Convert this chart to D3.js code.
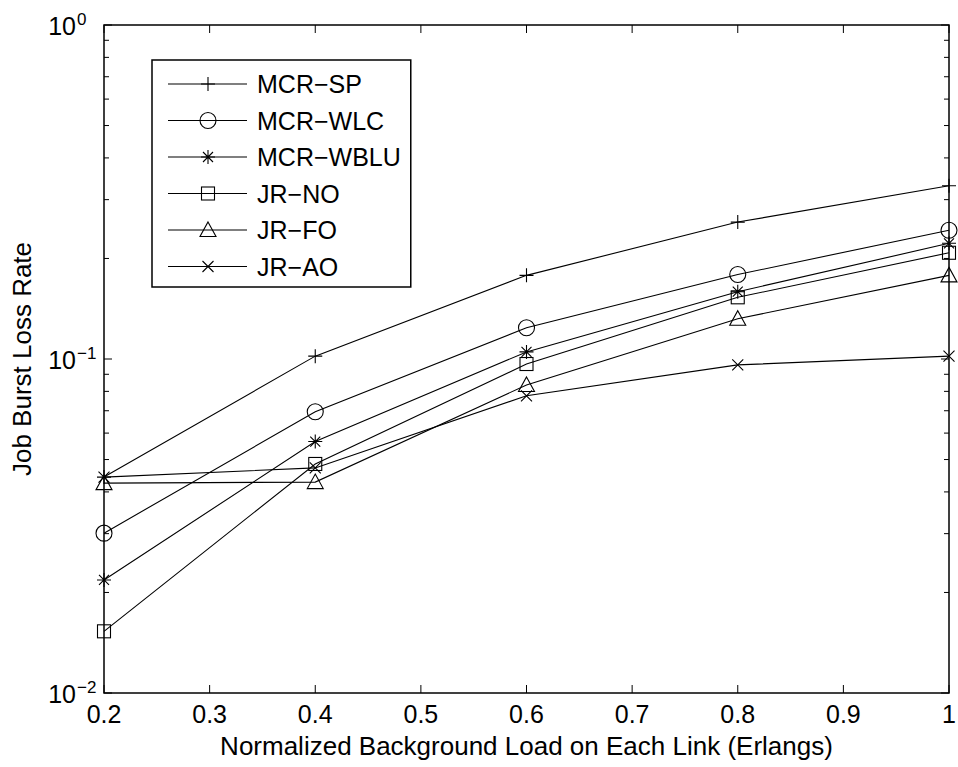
<!DOCTYPE html>
<html>
<head>
<meta charset="utf-8">
<script src="https://cdn.jsdelivr.net/npm/d3@7"></script>
<style>
  body { margin: 0; background: #fff; }
  text { font-family: "Liberation Sans", Arial, sans-serif; fill: #000; }
</style>
</head>
<body>
<div class="canva"></div>
<script>
// data
const loads = [0.2, 0.4, 0.6, 0.8, 1.0];
const mcrSP   = [0.0443, 0.102, 0.178, 0.257, 0.330];
const mcrWLC  = [0.0301, 0.0695, 0.124, 0.179, 0.243];
const mcrWBLU = [0.0218, 0.0566, 0.105, 0.159, 0.222];
const jrNO    = [0.0153, 0.0485, 0.0966, 0.153, 0.208];
const jrFO    = [0.0425, 0.0428, 0.0836, 0.132, 0.178];
const jrAO    = [0.0443, 0.0472, 0.0776, 0.096, 0.102];
const seriesNames = ['MCR\u2212SP', 'MCR\u2212WLC', 'MCR\u2212WBLU', 'JR\u2212NO', 'JR\u2212FO', 'JR\u2212AO'];
const markerTypes = ['plus', 'circle', 'star', 'square', 'triangle', 'cross'];
const xTicks = [0.2, 0.3, 0.4, 0.5, 0.6, 0.7, 0.8, 0.9, 1];
const yDecades = [-2, -1, 0];

const series = [mcrSP, mcrWLC, mcrWBLU, jrNO, jrFO, jrAO].map((vals, i) => ({
  name: seriesNames[i],
  marker: markerTypes[i],
  points: vals.map((v, j) => ({x: loads[j], y: v}))
}));

const width = 958, height = 767;
const margin = {top: 25, right: 9, bottom: 74, left: 104};
const w = width - margin.left - margin.right;
const h = height - margin.top - margin.bottom;
const fs = 25;

const svg = d3.select('.canva').append('svg')
  .attr('width', width)
  .attr('height', height);

const graph = svg.append('g')
  .attr('transform', `translate(${margin.left}, ${margin.top})`);

const x = d3.scaleLinear().domain([0.2, 1]).range([0, w]);
const y = d3.scaleLog().domain([0.01, 1]).range([h, 0]);

// ticks (inside, on all four sides)
const tickLen = 8, minorLen = 5;
const ticks = graph.append('g').attr('stroke', '#000').attr('stroke-width', 1);
xTicks.forEach(t => {
  ticks.append('line').attr('x1', x(t)).attr('x2', x(t)).attr('y1', h).attr('y2', h - tickLen);
  ticks.append('line').attr('x1', x(t)).attr('x2', x(t)).attr('y1', 0).attr('y2', tickLen);
});
y.ticks().forEach(t => {
  const major = Math.abs(Math.log10(t) - Math.round(Math.log10(t))) < 1e-9;
  const len = major ? tickLen : minorLen;
  ticks.append('line').attr('x1', 0).attr('x2', len).attr('y1', y(t)).attr('y2', y(t));
  ticks.append('line').attr('x1', w).attr('x2', w - len).attr('y1', y(t)).attr('y2', y(t));
});

// tick labels
graph.selectAll('.xlab').data(xTicks).enter().append('text')
  .attr('x', d => x(d))
  .attr('y', h + 30)
  .attr('text-anchor', 'middle')
  .style('font-size', fs + 'px')
  .text(d => d3.format('~g')(d));

yDecades.forEach(p => {
  const yy = y(Math.pow(10, p));
  graph.append('text')
    .attr('x', -28)
    .attr('y', yy + 10)
    .attr('text-anchor', 'end')
    .style('font-size', fs + 'px')
    .text('10');
  graph.append('text')
    .attr('x', -27)
    .attr('y', yy)
    .style('font-size', '17px')
    .text(p === 0 ? '0' : '\u2212' + Math.abs(p));
});

// axis titles
svg.append('text')
  .attr('x', margin.left + w / 2)
  .attr('y', 755)
  .attr('text-anchor', 'middle')
  .style('font-size', '26px')
  .text('Normalized Background Load on Each Link (Erlangs)');

svg.append('text')
  .attr('transform', `translate(31, ${margin.top + h / 2}) rotate(-90)`)
  .attr('text-anchor', 'middle')
  .style('font-size', '26px')
  .text('Job Burst Loss Rate');

// markers
function drawMarker(g, type) {
  if (type === 'plus') {
    g.append('path').attr('d', 'M-7,0H7M0,-7V7');
  } else if (type === 'circle') {
    g.append('circle').attr('r', 8);
  } else if (type === 'star') {
    g.append('path').attr('d', 'M-7,0H7M0,-7V7M-5,-5L5,5M-5,5L5,-5');
  } else if (type === 'square') {
    g.append('rect').attr('x', -6.5).attr('y', -6.5).attr('width', 13).attr('height', 13);
  } else if (type === 'triangle') {
    g.append('path').attr('d', 'M0,-8L8,6.5L-8,6.5Z');
  } else if (type === 'cross') {
    g.append('path').attr('d', 'M-5.5,-5.5L5.5,5.5M-5.5,5.5L5.5,-5.5');
  }
}

const line = d3.line().x(d => x(d.x)).y(d => y(d.y));

series.forEach(s => {
  graph.append('path')
    .datum(s.points)
    .attr('d', line)
    .attr('fill', 'none')
    .attr('stroke', '#000')
    .attr('stroke-width', 1.1);
  graph.selectAll(null).data(s.points).enter().append('g')
    .attr('transform', d => `translate(${x(d.x)}, ${y(d.y)})`)
    .attr('fill', 'none').attr('stroke', '#000').attr('stroke-width', 1.1)
    .each(function() { drawMarker(d3.select(this), s.marker); });
});

// frame
graph.append('rect')
  .attr('width', w).attr('height', h)
  .attr('fill', 'none').attr('stroke', '#000').attr('stroke-width', 1.5);

// legend
const leg = svg.append('g').attr('transform', 'translate(152, 60)');
const rowH = 36.5;
const legRect = leg.append('rect')
  .attr('fill', '#fff').attr('stroke', '#000').attr('stroke-width', 1.5)
  .attr('height', 227);
series.forEach((s, i) => {
  const cy = 24 + i * rowH;
  const row = leg.append('g').attr('transform', `translate(0, ${cy})`);
  row.append('line').attr('x1', 16).attr('x2', 95).attr('y1', 0).attr('y2', 0)
    .attr('stroke', '#000').attr('stroke-width', 1.1);
  const m = row.append('g').attr('transform', 'translate(56, 0)')
    .attr('fill', 'none').attr('stroke', '#000').attr('stroke-width', 1.1);
  drawMarker(m, s.marker);
  row.append('text').attr('x', 105).attr('y', 9).style('font-size', fs + 'px').text(s.name);
});
const maxText = d3.max(leg.selectAll('text').nodes(), n => n.getComputedTextLength());
legRect.attr('width', 105 + maxText + 10);
</script>
</body>
</html>
